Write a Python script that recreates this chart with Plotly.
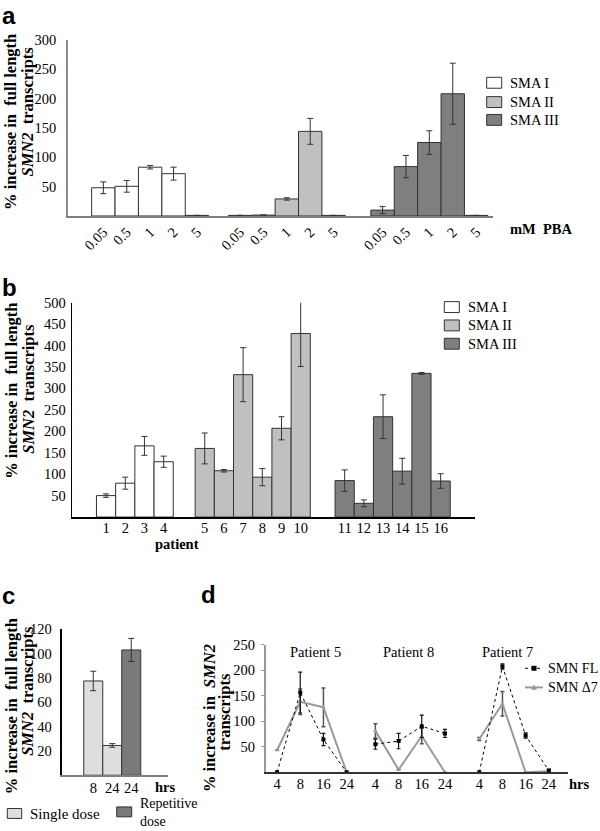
import plotly.graph_objects as go

W, H = 600, 831


def fx(px):
    return px / W


def fy(py):
    return 1 - py / H


# ---------------- data ----------------
series_names = ["SMA I", "SMA II", "SMA III"]

# panel a: mM PBA doses per SMA type
a_doses = ["0.05", "0.5", "1", "2", "5"]
a_sma1 = [48, 50.5, 83, 72, 1]
a_sma1_err = [10, 10, 3, 11, 0]
a_sma2 = [1, 1.5, 29, 144, 1]
a_sma2_err = [0, 0, 2, 22, 0]
a_sma3 = [10, 84, 125, 208, 1]
a_sma3_err = [6, 19, 20, 52, 0]

# panel b: per patient
b_patients = [1, 2, 3, 4, 5, 6, 7, 8, 9, 10, 11, 12, 13, 14, 15, 16]
b_types = ["SMA I"] * 4 + ["SMA II"] * 6 + ["SMA III"] * 6
b_values = [50, 79, 166, 129, 160, 108, 332, 93, 207, 428, 85, 32, 234, 107, 335, 84]
b_err = [4, 14, 22, 13, 36, 3, 63, 20, 27, 77, 25, 8, 51, 30, 2, 17]

# panel c
c_hours = ["8", "24", "24"]
c_dose = ["Single dose", "Single dose", "Repetitive dose"]
c_values = [77.5, 24.5, 103]
c_err = [8, 1.5, 9.5]

# panel d
d_hours = ["4", "8", "16", "24"]
d_patients = ["Patient 5", "Patient 8", "Patient 7"]
d_fl = [[0, 156, 64, 0], [55, 61, 90, 76], [0, 207, 72, 3]]
d_fl_err = [[0, 40, 12, 0], [10, 15, 22, 8], [0, 5, 5, 3]]
d_d7 = [[43, 138, 127, 0], [81, 5, 71, 0], [65, 134, 0, 2]]
d_d7_err = [[0, 25, 38, 0], [14, 0, 15, 0], [3, 24, 0, 0]]

# ---------------- style ----------------
SERIF = "Liberation Serif, Times New Roman, DejaVu Serif, serif"
SANS = "Liberation Sans, Arial, sans-serif"
fills = {"SMA I": "#ffffff", "SMA II": "#c0c0c0", "SMA III": "#7f7f7f"}
dose_fills = {"Single dose": "#dedede", "Repetitive dose": "#7a7a7a"}
EDGE = "#333333"

a_group_start = [0, 5.84, 11.93]
b_group_start = {"SMA I": 0, "SMA II": 5.14, "SMA III": 12.43}
d_group_start = [0, 4.24, 8.72]


def errs(v):
    return [e if e else None for e in v]


fig = go.Figure()

# ---- panel a ----
a_vals = [a_sma1, a_sma2, a_sma3]
a_errs = [a_sma1_err, a_sma2_err, a_sma3_err]
a_tickvals, a_ticktext = [], []
for g, name in enumerate(series_names):
    xs = [a_group_start[g] + i for i in range(len(a_doses))]
    a_tickvals += xs
    a_ticktext += a_doses
    fig.add_trace(go.Bar(
        x=xs, y=a_vals[g], width=1, name=name, showlegend=False,
        marker=dict(color=fills[name], line=dict(color=EDGE, width=1)),
        error_y=dict(type="data", array=errs(a_errs[g]), color="#333333", thickness=1, width=3),
        xaxis="x", yaxis="y"))

# ---- panel b ----
b_pos = []
counters = {"SMA I": 0, "SMA II": 0, "SMA III": 0}
for t in b_types:
    b_pos.append(b_group_start[t] + counters[t])
    counters[t] += 1
for name in series_names:
    idx = [i for i, t in enumerate(b_types) if t == name]
    fig.add_trace(go.Bar(
        x=[b_pos[i] for i in idx], y=[b_values[i] for i in idx], width=1,
        name=name, showlegend=False,
        marker=dict(color=fills[name], line=dict(color=EDGE, width=1)),
        error_y=dict(type="data", array=errs([b_err[i] for i in idx]), color="#333333",
                     thickness=1, width=3),
        xaxis="x2", yaxis="y2"))

# ---- panel c ----
for dose in ["Single dose", "Repetitive dose"]:
    idx = [i for i, d in enumerate(c_dose) if d == dose]
    fig.add_trace(go.Bar(
        x=idx, y=[c_values[i] for i in idx], width=1, name=dose, showlegend=False,
        marker=dict(color=dose_fills[dose], line=dict(color=EDGE, width=1)),
        error_y=dict(type="data", array=errs([c_err[i] for i in idx]), color="#333333",
                     thickness=1, width=3),
        xaxis="x3", yaxis="y3"))

# ---- panel d ----
d_tickvals, d_ticktext = [], []
for g, pname in enumerate(d_patients):
    xs = [d_group_start[g] + j for j in range(len(d_hours))]
    d_tickvals += xs
    d_ticktext += d_hours
    fig.add_trace(go.Scatter(
        x=xs, y=d_d7[g], mode="lines+markers", name="SMN \u03947", showlegend=False,
        line=dict(color="#9a9a9a", width=2),
        marker=dict(symbol="triangle-up", size=4, color="#9a9a9a"),
        error_y=dict(type="data", array=errs(d_d7_err[g]), color="#555555", thickness=1.5, width=2),
        xaxis="x4", yaxis="y4"))
    fig.add_trace(go.Scatter(
        x=xs, y=d_fl[g], mode="lines+markers", name="SMN FL", showlegend=False,
        line=dict(color="#000000", width=1, dash="dot"),
        marker=dict(symbol="square", size=4, color="#000000"),
        error_y=dict(type="data", array=errs(d_fl_err[g]), color="#111111", thickness=1.2, width=2),
        xaxis="x4", yaxis="y4"))

tickfont = dict(family=SERIF, size=14.5, color="#000")

common_x = dict(showgrid=False, zeroline=False, ticks="", tickfont=tickfont, fixedrange=True)
common_y = dict(showgrid=False, zeroline=False, tickfont=tickfont, fixedrange=True)

fig.update_layout(
    width=W, height=H, margin=dict(l=0, r=0, t=0, b=0),
    paper_bgcolor="white", plot_bgcolor="white",
    barmode="overlay", showlegend=False,
    font=dict(family=SERIF, color="#000"),
    xaxis=dict(domain=[fx(68), fx(493)], range=[-1.51, 16.65], anchor="y",
               tickmode="array", tickvals=a_tickvals, ticktext=a_ticktext, tickangle=-45,
               showline=True, linecolor="#7f7f7f", linewidth=2, **common_x),
    yaxis=dict(domain=[fy(210), fy(32)], range=[0, 300], anchor="x",
               tickmode="array", tickvals=[50, 100, 150, 200, 250, 300], ticks="",
               ticklabelstandoff=7,
               showline=True, linecolor="#8a8a8a", linewidth=1.5, **common_y),
    xaxis2=dict(domain=[fx(71.7), fx(475)], range=[-1.79, 19.22], anchor="y2",
                tickmode="array", tickvals=b_pos, ticktext=[str(p) for p in b_patients],
                ticklabelstandoff=-3,
                showline=True, linecolor="#000", linewidth=2, **common_x),
    yaxis2=dict(domain=[fy(514), fy(297.5)], range=[0, 500], anchor="x2",
                tickmode="array", tickvals=[50, 100, 150, 200, 250, 300, 350, 400, 450, 500],
                ticks="", ticklabelstandoff=2,
                showline=True, linecolor="#000", linewidth=1, **common_y),
    xaxis3=dict(domain=[fx(62.3), fx(168.3)], range=[-1.63, 3.95], anchor="y3",
                tickmode="array", tickvals=[0, 1, 2], ticktext=c_hours,
                ticklabelstandoff=-2,
                showline=True, linecolor="#7f7f7f", linewidth=2, **common_x),
    yaxis3=dict(domain=[fy(774.7), fy(627.3)], range=[0, 120], anchor="x3",
                tickmode="array", tickvals=[20, 40, 60, 80, 100, 120], ticks="",
                ticklabelstandoff=6,
                showline=True, linecolor="#000", linewidth=1.5, **common_y),
    xaxis4=dict(domain=[fx(265.7), fx(568.3)], range=[-0.49, 12.56], anchor="y4",
                tickmode="array", tickvals=d_tickvals, ticktext=d_ticktext,
                ticklabelstandoff=-2,
                showline=True, linecolor="#333", linewidth=1.5, **common_x),
    yaxis4=dict(domain=[fy(771.7), fy(642.7)], range=[0, 250], anchor="x4",
                tickmode="array", tickvals=[50, 100, 150, 200, 250], ticks="outside",
                ticklen=3, tickcolor="#999", ticklabelstandoff=3,
                showline=True, linecolor="#9a9a9a", linewidth=1.5, **common_y),
)

ann = []
shapes = []


def text(x, y, s, size=14.5, family=SERIF, xanchor="center", yanchor="middle", angle=0):
    ann.append(dict(x=fx(x), y=fy(y), xref="paper", yref="paper", text=s, showarrow=False,
                    xanchor=xanchor, yanchor=yanchor, textangle=angle,
                    font=dict(family=family, size=size, color="#000")))


# panel letters
text(9, 8, "<b>a</b>", size=24, family=SANS)
text(9, 282, "<b>b</b>", size=24, family=SANS)
text(8, 593, "<b>c</b>", size=24, family=SANS)
text(208, 592, "<b>d</b>", size=24, family=SANS)

# y titles
L1 = "<b>% increase in\u00a0 full length</b>"
L2 = "<b><i>SMN2</i>\u00a0 transcripts</b>"
TS = 16.5
text(11, 115, L1, size=TS, angle=-90)
text(27.5, 105, L2, size=TS, angle=-90)
text(11.5, 387, L1, size=TS, angle=-90)
text(28.5, 385, L2, size=TS, angle=-90)
text(11, 705, L1, size=TS, angle=-90)
text(27.5, 690, L2, size=TS, angle=-90)
text(209, 717, "<b>% increase in\u00a0 <i>SMN2</i></b>", size=TS, angle=-90)
text(224.5, 711, "<b>transcripts</b>", size=TS, angle=-90)

# axis labels
text(508, 223, "<b>mM\u00a0 PBA</b>", size=14.5, xanchor="left")
text(177, 541, "<b>patient</b>", size=14.5)
text(165, 787, "<b>hrs</b>", size=14.5)
text(579, 784, "<b>hrs</b>", size=14.5)

# patient titles in d
for g, pname in enumerate(d_patients):
    cx = [315.3, 408.7, 507][g]
    text(cx, 650, pname, size=14.5)


def box(x0, x1, y0, y1, fill):
    shapes.append(dict(type="rect", xref="paper", yref="paper", x0=fx(x0), x1=fx(x1),
                       y0=fy(y1), y1=fy(y0), fillcolor=fill, line=dict(color=EDGE, width=1)))


# legend a
for name, yc in zip(series_names, [75.5, 95, 113]):
    box(486.7, 501.7, yc - 5.5, yc + 5.5, fills[name])
    text(508, yc, name, xanchor="left")
# legend b
for name, yc in zip(series_names, [302, 320.5, 339]):
    box(444.3, 459.3, yc - 5.5, yc + 5.5, fills[name])
    text(465.7, yc, name, xanchor="left")
# legend c
box(7.3, 21.7, 808.3, 818.3, dose_fills["Single dose"])
text(28, 814, "Single dose", size=15, xanchor="left")
box(116.7, 131.7, 806.7, 816.7, dose_fills["Repetitive dose"])
ann.append(dict(x=fx(138), y=fy(812), xref="paper", yref="paper", text="Repetitive<br>dose",
                showarrow=False, xanchor="left", yanchor="middle", align="left",
                font=dict(family=SERIF, size=14, color="#000")))
# legend d
shapes.append(dict(type="line", xref="paper", yref="paper", x0=fx(525), x1=fx(543),
                   y0=fy(666.7), y1=fy(666.7), line=dict(color="#000", width=1, dash="dot")))
shapes.append(dict(type="rect", xref="paper", yref="paper", x0=fx(531.5), x1=fx(536.5),
                   y0=fy(669.2), y1=fy(664.2), fillcolor="#000", line=dict(width=0)))
shapes.append(dict(type="line", xref="paper", yref="paper", x0=fx(525), x1=fx(543),
                   y0=fy(686), y1=fy(686), line=dict(color="#9a9a9a", width=2)))
shapes.append(dict(type="path", xref="paper", yref="paper",
                   path=f"M {fx(531)} {fy(688.5)} L {fx(537)} {fy(688.5)} L {fx(534)} {fy(683)} Z",
                   fillcolor="#9a9a9a", line=dict(width=0)))
text(545.5, 666.7, "SMN FL", size=14, xanchor="left")
text(545.5, 686, "SMN \u03947", size=14, xanchor="left")

fig.update_layout(annotations=ann, shapes=shapes)

fig.write_html("out.html", config={"displayModeBar": False},
               post_script="document.body.style.margin='0';")
